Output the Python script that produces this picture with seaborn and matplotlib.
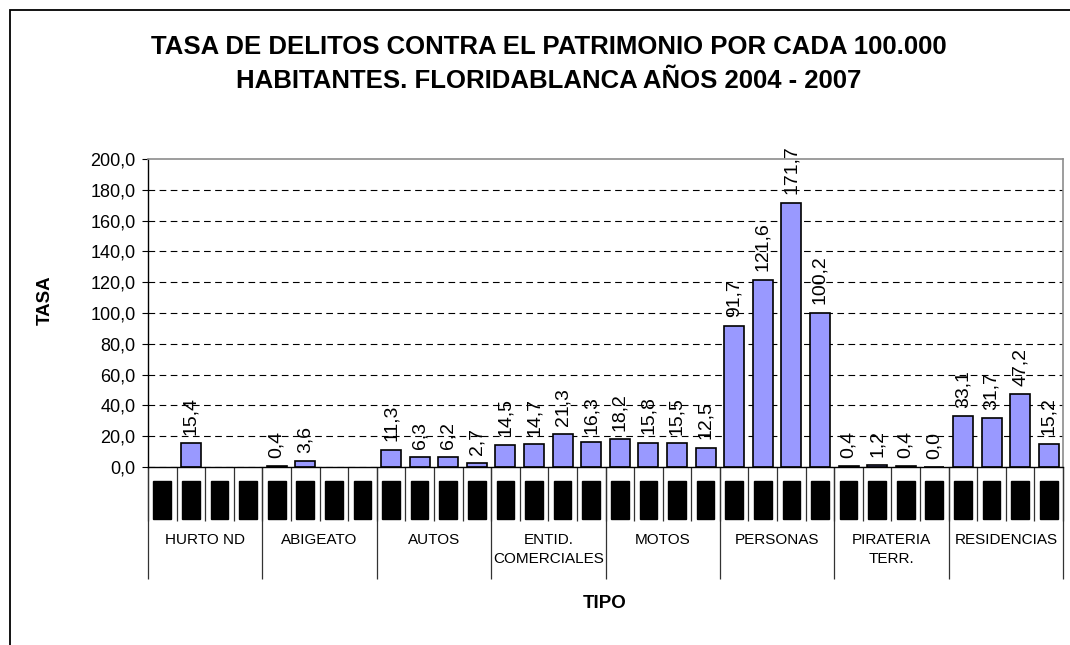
import pandas as pd
import numpy as np
import matplotlib.pyplot as plt
from matplotlib.patches import Rectangle
import seaborn as sns

# Datos
tipos = ["HURTO ND", "ABIGEATO", "AUTOS", "ENTID.\nCOMERCIALES", "MOTOS",
         "PERSONAS", "PIRATERIA\nTERR.", "RESIDENCIAS"]
anios = [2004, 2005, 2006, 2007]
hurto_nd = [np.nan, 15.4, np.nan, np.nan]
abigeato = [0.4, 3.6, np.nan, np.nan]
autos = [11.3, 6.3, 6.2, 2.7]
entid_comerciales = [14.5, 14.7, 21.3, 16.3]
motos = [18.2, 15.8, 15.5, 12.5]
personas = [91.7, 121.6, 171.7, 100.2]
pirateria = [0.4, 1.2, 0.4, 0.0]
residencias = [33.1, 31.7, 47.2, 15.2]
yticks = [0, 20, 40, 60, 80, 100, 120, 140, 160, 180, 200]

series = [hurto_nd, abigeato, autos, entid_comerciales, motos,
          personas, pirateria, residencias]

filas = []
for tipo, vals in zip(tipos, series):
    for anio, v in zip(anios, vals):
        filas.append({"tipo": tipo, "anio": anio, "slot": f"{tipo}|{anio}", "tasa": v})
df = pd.DataFrame(filas)
orden = list(df["slot"])

sns.set_style("white")
plt.rcParams["font.family"] = ["Liberation Sans", "DejaVu Sans"]
plt.rcParams["text.color"] = "black"
plt.rcParams["axes.labelcolor"] = "black"
plt.rcParams["ytick.color"] = "black"
plt.rcParams["xtick.color"] = "black"

fig = plt.figure(figsize=(10.7, 6.45), dpi=100)
ax = fig.add_axes([148 / 1070, 1 - 467 / 645, (1063 - 148) / 1070, (467 - 159) / 645])

sns.barplot(data=df.dropna(), x="slot", y="tasa", order=orden, color="#9999FF",
            saturation=1, edgecolor="black", linewidth=1.2, width=0.7,
            errorbar=None, ax=ax)

ax.set_xlim(-0.5, len(orden) - 0.5)
ax.set_ylim(0, 200)
ax.set_yticks(yticks)
ax.set_yticklabels([f"{t:.1f}".replace(".", ",") for t in yticks], fontsize=13)
ax.tick_params(axis="y", length=4, width=0.8, color="black", pad=5, left=True)
ax.set_xticks([])
ax.set_xlabel("")
ax.set_ylabel("")

# rejilla discontinua
ax.yaxis.grid(True, color="black", linestyle=(0, (6, 4)), linewidth=0.8)
ax.set_axisbelow(True)
ax.yaxis.get_gridlines()[-1].set_visible(False)

for s in ["top", "right"]:
    ax.spines[s].set_color("#8c8c8c")
    ax.spines[s].set_linewidth(1.2)
for s in ["left", "bottom"]:
    ax.spines[s].set_color("black")
    ax.spines[s].set_linewidth(1.0)

# etiquetas de valores
for i, v in enumerate(df["tasa"]):
    if np.isnan(v):
        continue
    ax.annotate(f"{v:.1f}".replace(".", ","), (i, v), xytext=(0, 6),
                textcoords="offset points", rotation=90, ha="center",
                va="bottom", fontsize=14, color="black")

# eje de categorias (años en cajas negras + tipos)
trans = ax.get_xaxis_transform()
for i, anio in enumerate(df["anio"]):
    ax.text(i, -0.107, str(anio), transform=trans, rotation=90, ha="center",
            va="center", fontsize=11, color="black",
            bbox=dict(boxstyle="square,pad=0.12", facecolor="black", edgecolor="black"))

n = len(anios)
ax.vlines(np.arange(-0.5, len(orden), 1.0), 0, -0.175, transform=trans,
          colors="#333333", linewidth=0.9, clip_on=False)
ax.vlines(np.arange(-0.5, len(orden), n), 0, -0.364, transform=trans,
          colors="#333333", linewidth=0.9, clip_on=False)
for k, tipo in enumerate(tipos):
    ax.text(k * n + (n - 1) / 2, -0.215, tipo, transform=trans, ha="center",
            va="top", fontsize=11, linespacing=1.45, color="black")

fig.text(549 / 1070, 1 - 64 / 645,
         "TASA DE DELITOS CONTRA EL PATRIMONIO POR CADA 100.000\nHABITANTES. FLORIDABLANCA AÑOS 2004 - 2007",
         ha="center", va="center", fontsize=18.5, fontweight="bold", linespacing=1.5)
fig.text(45 / 1070, 1 - 300 / 645, "TASA", rotation=90, ha="center", va="center",
         fontsize=13.5, fontweight="bold")
fig.text(605 / 1070, 1 - 604 / 645, "TIPO", ha="center", va="center",
         fontsize=13.5, fontweight="bold")

# marco exterior
fig.patches.append(Rectangle((10 / 1070, -0.5), 2, 0.5 + 1 - 10 / 645,
                             transform=fig.transFigure, fill=False,
                             edgecolor="black", linewidth=1.3))

fig.savefig("out.png", dpi=100)
